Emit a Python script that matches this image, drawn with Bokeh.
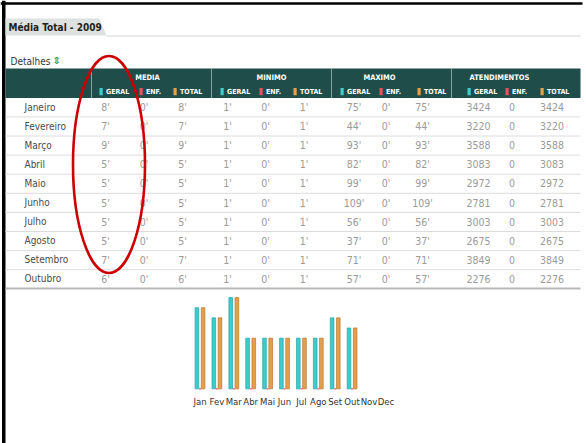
from bokeh.plotting import figure
from bokeh.models import Range1d, ColumnDataSource
from bokeh.core.properties import value
from bokeh.embed import file_html
from bokeh.resources import INLINE

# ---------------- data ----------------
months = ["Janeiro", "Fevereiro", "Março", "Abril", "Maio", "Junho",
          "Julho", "Agosto", "Setembro", "Outubro"]
media_geral = [8, 7, 9, 5, 5, 5, 5, 5, 7, 6]
media_enf = [0, 0, 0, 0, 0, 0, 0, 0, 0, 0]
media_total = [8, 7, 9, 5, 5, 5, 5, 5, 7, 6]
minimo_geral = [1, 1, 1, 1, 1, 1, 1, 1, 1, 1]
minimo_enf = [0, 0, 0, 0, 0, 0, 0, 0, 0, 0]
minimo_total = [1, 1, 1, 1, 1, 1, 1, 1, 1, 1]
maximo_geral = [75, 44, 93, 82, 99, 109, 56, 37, 71, 57]
maximo_enf = [0, 0, 0, 0, 0, 0, 0, 0, 0, 0]
maximo_total = [75, 44, 93, 82, 99, 109, 56, 37, 71, 57]
atend_geral = [3424, 3220, 3588, 3083, 2972, 2781, 3003, 2675, 3849, 2276]
atend_enf = [0, 0, 0, 0, 0, 0, 0, 0, 0, 0]
atend_total = [3424, 3220, 3588, 3083, 2972, 2781, 3003, 2675, 3849, 2276]
group_labels = ["MEDIA", "MINIMO", "MAXIMO", "ATENDIMENTOS"]
sub_labels = ["GERAL", "ENF.", "TOTAL"]
chart_months = ["Jan", "Fev", "Mar", "Abr", "Mai", "Jun",
                "Jul", "Ago", "Set", "Out", "Nov", "Dec"]
title_text = "Média Total - 2009"
details_text = "Detalhes"

# ---------------- layout / style ----------------
NARROW = value("DejaVu Sans Condensed")
TEAL = "#1f4e4a"
CYAN = "#3fcbcc"
RED = "#e5525c"
ORANGE = "#e3a04c"

p = figure(width=586, height=443, x_range=Range1d(0, 586), y_range=Range1d(443, 0),
           output_backend="svg", toolbar_location=None, min_border=0,
           outline_line_color=None, background_fill_color="white",
           border_fill_color="white")
p.axis.visible = False
p.grid.visible = False
p.extra_x_ranges = {"months": Range1d(-11.805, 22.870)}
p.extra_y_ranges = {"bars": Range1d(-5.39, 38.29)}

# frame border
p.quad(left=[1.5], right=[5], top=[0], bottom=[443], fill_color="black", line_color=None)
p.quad(left=[0], right=[582], top=[1.7], bottom=[4.2], fill_color="black", line_color=None)

# title tab
p.patch(x=[5, 99, 106, 5], y=[18, 18, 35, 35], fill_color="#dde1df", line_color=None)
p.segment(x0=[106], y0=[35.5], x1=[580], y1=[35.5], line_color="#d3d7d5", line_width=1)
p.text(x=[8], y=[27], text=[title_text], text_font=NARROW, text_font_size="10px",
       text_font_style="bold", text_color="#222222", text_baseline="middle")
p.text(x=[10], y=[60.5], text=[details_text], text_font=NARROW, text_font_size="10px",
       text_color="#333333", text_baseline="middle")
p.text(x=[52], y=[59.5], text=["⇕"], text_font=value("DejaVu Sans"), text_font_size="10px",
       text_font_style="bold", text_color="#3f9f3f", text_baseline="middle")

# header
p.quad(left=[5], right=[580], top=[68], bottom=[97.5], fill_color=TEAL, line_color=None)
group_start = [91, 211, 331, 451]
p.segment(x0=group_start, y0=[68] * 4, x1=group_start, y1=[97.5] * 4,
          line_color="#86a5a2", line_width=1)
group_label_x = [147, 271, 379, 499]
p.text(x=group_label_x, y=[76.7] * 4, text=group_labels, text_font=NARROW,
       text_font_size="7.5px", text_font_style="bold", text_color="white",
       text_align="center", text_baseline="middle")

square_x = [[99, 139, 173], [220, 259, 293], [340, 379, 417], [467, 505, 540]]
sq_colors = [CYAN, RED, ORANGE]
sq_left, sq_col, lab_x, lab_t = [], [], [], []
for g in range(4):
    for s in range(3):
        sq_left.append(square_x[g][s])
        sq_col.append(sq_colors[s])
        lab_x.append(square_x[g][s] + 6.5)
        lab_t.append(sub_labels[s])
p.quad(left=sq_left, right=[v + 3.2 for v in sq_left], top=[87.5] * 12, bottom=[94.7] * 12,
       fill_color=sq_col, line_color=None)
p.text(x=lab_x, y=[91.2] * 12, text=lab_t, text_font=NARROW, text_font_size="7px",
       text_font_style="bold", text_color="white", text_baseline="middle")

# rows
row_y0, row_h = 106.5, 19.1
row_y = [row_y0 + row_h * i for i in range(len(months))]
sep_y = [y + 9.9 for y in row_y[:-1]]
p.segment(x0=[5] * len(sep_y), y0=sep_y, x1=[580] * len(sep_y), y1=sep_y,
          line_color="#dcdcdc", line_width=1)
p.segment(x0=[5], y0=[row_y[-1] + 9.6], x1=[580], y1=[row_y[-1] + 9.6],
          line_color="#b8b8b8", line_width=2)
p.text(x=[24] * len(months), y=row_y, text=months, text_font=NARROW,
       text_font_size="10px", text_color="#4a4a4a", text_baseline="middle")

table_cols = [
    (media_geral, "'"), (media_enf, "'"), (media_total, "'"),
    (minimo_geral, "'"), (minimo_enf, "'"), (minimo_total, "'"),
    (maximo_geral, "'"), (maximo_enf, "'"), (maximo_total, "'"),
    (atend_geral, ""), (atend_enf, ""), (atend_total, ""),
]
col_x = [105, 143.5, 182, 227, 265, 303.5, 353.5, 385.5, 422, 478, 511.5, 551.5]
cx, cy, ct = [], [], []
for (vals, suf), x in zip(table_cols, col_x):
    for i, v in enumerate(vals):
        cx.append(x)
        cy.append(row_y[i])
        ct.append(f"{v}{suf}")
p.text(x=cx, y=cy, text=ct, text_font=NARROW, text_font_size="10.5px",
       text_color="#9a9a9a", text_align="center", text_baseline="middle")

# red ellipse annotation
p.ellipse(x=[108.5], y=[164], width=[72], height=[217], fill_alpha=0,
          line_color="#cc0000", line_width=2.6)

# bar chart
idx = list(range(len(media_geral)))
bw = 0.215
src = ColumnDataSource(dict(
    xg=[i - 0.183 for i in idx], xe=idx, xt=[i + 0.183 for i in idx],
    geral=media_geral, enf=media_enf, total=media_total))
p.vbar(x="xg", top="geral", bottom=0, width=bw, source=src, fill_color=CYAN,
       line_color="#27a3a6", line_width=0.7, x_range_name="months", y_range_name="bars")
p.vbar(x="xt", top="total", bottom=0, width=bw, source=src, fill_color=ORANGE,
       line_color="#b9792f", line_width=0.7, x_range_name="months", y_range_name="bars")
p.vbar(x="xe", top="enf", bottom=0, width=0.12, source=src, fill_color=RED,
       line_color=RED, line_width=1.2, x_range_name="months", y_range_name="bars")
p.text(x=list(range(len(chart_months))), y=[400.5] * len(chart_months), text=chart_months,
       text_font=NARROW, text_font_size="9.5px", text_color="#333333",
       text_align="center", text_baseline="middle", x_range_name="months")

open("out.html", "w").write(file_html(p, INLINE))
